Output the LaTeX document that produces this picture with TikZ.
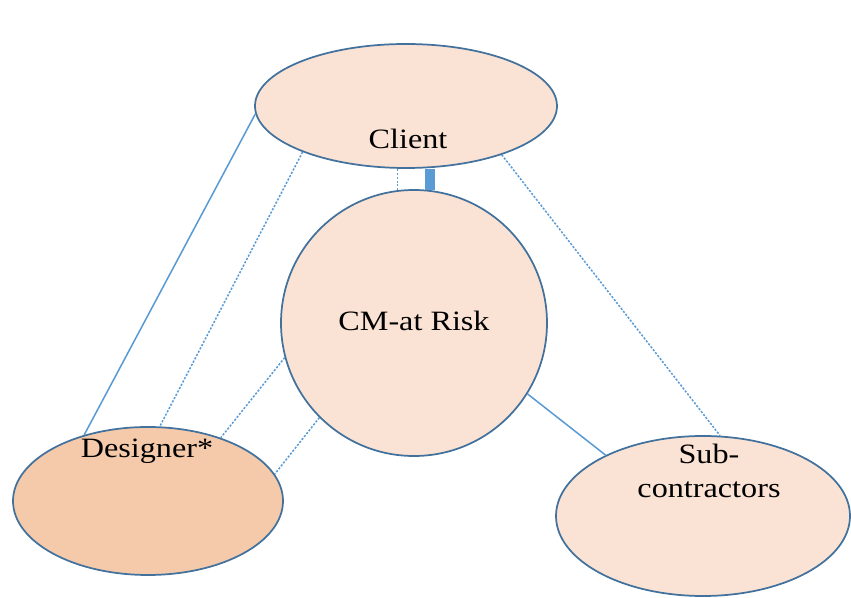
\documentclass[tikz,border=0pt]{standalone}
\usepackage{fontspec}
\setmainfont{Liberation Serif}
\usetikzlibrary{shapes.geometric}
\definecolor{lightfill}{HTML}{FAE3D4}
\definecolor{darkfill}{HTML}{F5CAAA}
\definecolor{outline}{HTML}{41719C}
\definecolor{linkblue}{HTML}{5B9BD5}
\tikzset{
  party/.style={ellipse, draw=outline, line width=1.3pt, inner sep=0pt},
  label/.style={font=\fontsize{21}{26}\selectfont, align=center, inner sep=0pt},
  solidlink/.style={draw=linkblue, line width=1.15pt},
  dashlink/.style={draw=linkblue, line width=1.15pt, dash pattern=on 1.6pt off 1.2pt},
  thicklink/.style={draw=linkblue, line width=7.5pt}
}
\newcommand{\wide}[1]{\scalebox{1.15}[1]{#1}}
\begin{document}
\begin{tikzpicture}[x=0.75pt, y=-0.75pt]
\useasboundingbox (0,0) rectangle (851,598);
% parties
\node[party, fill=lightfill, minimum width=226.5pt, minimum height=93pt] (client) at (406,106) {};
\node[party, fill=lightfill, circle, minimum size=199.5pt] (cm) at (414,323) {};
\node[party, fill=darkfill, minimum width=202.5pt, minimum height=111pt] (designer) at (148,501) {};
\node[party, fill=lightfill, minimum width=220.5pt, minimum height=120pt] (sub) at (703,516) {};
% connectors
\draw[solidlink] (client.183) -- (designer.134);
\draw[dashlink] (client.204) -- (designer.81);
\draw[dashlink] (cm.195) -- (designer.41);
\draw[dashlink] (cm.225) -- (designer.12);
\draw[dashlink] (cm.97) -- (cm.97 |- client.south);
\draw[thicklink] (cm.83) -- (cm.83 |- client.south);
\draw[dashlink] (client.333) -- (sub.78);
\draw[solidlink] (cm.328) -- (sub.148);
% texts
\node[label] (tclient) at (408,139) {\wide{Client}};
\node[label] (tcm) at (414,321) {\wide{CM-at Risk}};
\node[label] (tdesigner) at (147,451) {\wide{Designer*}};
\node[label] (tsub) at (709,471) {\wide{Sub-}\\\wide{contractors}};
\end{tikzpicture}
\end{document}
